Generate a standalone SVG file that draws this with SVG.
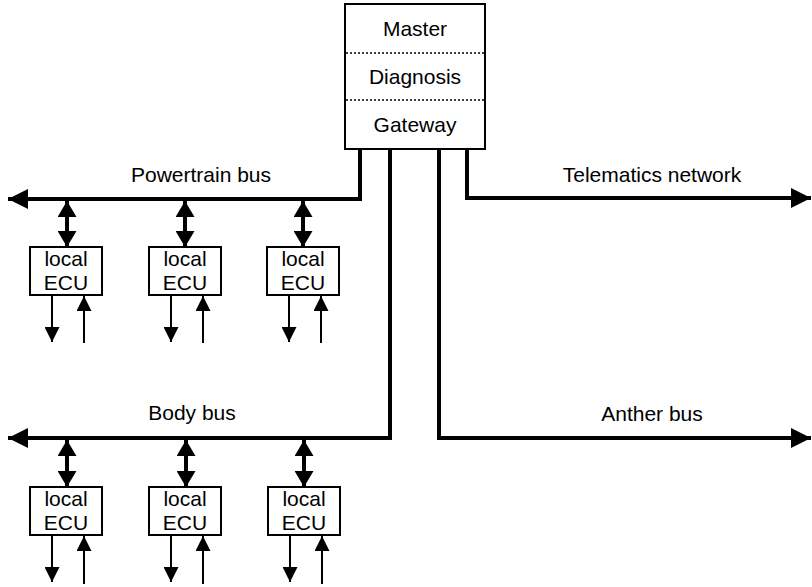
<svg xmlns="http://www.w3.org/2000/svg" width="812" height="587" viewBox="0 0 812 587">
  <defs>
    <style>
      text { font-family: "Liberation Sans", Arial, sans-serif; font-size: 21px; fill: #000; text-anchor: middle; }
      .box { fill: #fff; stroke: #000; stroke-width: 2; }
      .sep { stroke: #000; stroke-width: 1.5; stroke-dasharray: 2 2; }
      .bus { fill: none; stroke: #000; stroke-width: 4; }
      .link { stroke: #000; stroke-width: 4; }
      .io { stroke: #000; stroke-width: 2; }
    </style>
    <marker id="busHead" markerUnits="userSpaceOnUse" markerWidth="20" markerHeight="20" refX="20" refY="10" orient="auto-start-reverse" viewBox="0 0 20 20">
      <path d="M0,0 L20,10 L0,20 Z" fill="#000"/>
    </marker>
    <marker id="linkHead" markerUnits="userSpaceOnUse" markerWidth="16" markerHeight="19" refX="16" refY="9.5" orient="auto-start-reverse" viewBox="0 0 16 19">
      <path d="M0,0 L16,9.5 L0,19 Z" fill="#000"/>
    </marker>
    <marker id="ioHead" markerUnits="userSpaceOnUse" markerWidth="15" markerHeight="15" refX="15" refY="7.5" orient="auto" viewBox="0 0 15 15">
      <path d="M0,0 L15,7.5 L0,15 Z" fill="#000"/>
    </marker>
  </defs>

  <!-- central gateway unit -->
  <g id="gateway">
    <rect class="box" x="345" y="4" width="140" height="145"/>
    <line class="sep" x1="346" y1="53" x2="484" y2="53"/>
    <line class="sep" x1="346" y1="100" x2="484" y2="100"/>
    <text x="415" y="36">Master</text>
    <text x="415" y="84">Diagnosis</text>
    <text x="415" y="132">Gateway</text>
  </g>

  <!-- buses leaving the gateway -->
  <g id="connectors">
    <path class="bus" d="M360,149 V199 H8" marker-end="url(#busHead)"/>
    <path class="bus" d="M390,149 V438 H8" marker-end="url(#busHead)"/>
    <path class="bus" d="M439,149 V438 H811" marker-end="url(#busHead)"/>
    <path class="bus" d="M467,149 V198 H811" marker-end="url(#busHead)"/>

    <!-- powertrain ECU links -->
    <line class="link" x1="67" y1="201" x2="67" y2="247" marker-start="url(#linkHead)" marker-end="url(#linkHead)"/>
    <line class="link" x1="185" y1="201" x2="185" y2="247" marker-start="url(#linkHead)" marker-end="url(#linkHead)"/>
    <line class="link" x1="303" y1="201" x2="303" y2="247" marker-start="url(#linkHead)" marker-end="url(#linkHead)"/>

    <!-- body ECU links -->
    <line class="link" x1="67" y1="440" x2="67" y2="487" marker-start="url(#linkHead)" marker-end="url(#linkHead)"/>
    <line class="link" x1="186" y1="440" x2="186" y2="487" marker-start="url(#linkHead)" marker-end="url(#linkHead)"/>
    <line class="link" x1="304" y1="440" x2="304" y2="487" marker-start="url(#linkHead)" marker-end="url(#linkHead)"/>

    <!-- powertrain ECU I/O -->
    <line class="io" x1="52" y1="296" x2="52" y2="342" marker-end="url(#ioHead)"/>
    <line class="io" x1="84" y1="343" x2="84" y2="296" marker-end="url(#ioHead)"/>
    <line class="io" x1="171" y1="296" x2="171" y2="342" marker-end="url(#ioHead)"/>
    <line class="io" x1="203" y1="343" x2="203" y2="296" marker-end="url(#ioHead)"/>
    <line class="io" x1="289" y1="296" x2="289" y2="342" marker-end="url(#ioHead)"/>
    <line class="io" x1="321" y1="343" x2="321" y2="296" marker-end="url(#ioHead)"/>

    <!-- body ECU I/O -->
    <line class="io" x1="52" y1="536" x2="52" y2="582" marker-end="url(#ioHead)"/>
    <line class="io" x1="84" y1="584" x2="84" y2="536" marker-end="url(#ioHead)"/>
    <line class="io" x1="171" y1="536" x2="171" y2="582" marker-end="url(#ioHead)"/>
    <line class="io" x1="203" y1="584" x2="203" y2="536" marker-end="url(#ioHead)"/>
    <line class="io" x1="290" y1="536" x2="290" y2="582" marker-end="url(#ioHead)"/>
    <line class="io" x1="322" y1="584" x2="322" y2="536" marker-end="url(#ioHead)"/>
  </g>

  <!-- bus labels -->
  <g id="labels">
    <text x="201" y="182">Powertrain bus</text>
    <text x="652" y="182">Telematics network</text>
    <text x="192" y="420">Body bus</text>
    <text x="652" y="421">Anther bus</text>
  </g>

  <!-- powertrain ECUs -->
  <g id="pt-ecu-1">
    <rect class="box" x="30" y="247" width="72" height="48"/>
    <text x="66" y="266">local</text>
    <text x="66" y="290">ECU</text>
  </g>
  <g id="pt-ecu-2">
    <rect class="box" x="149" y="247" width="72" height="48"/>
    <text x="185" y="266">local</text>
    <text x="185" y="290">ECU</text>
  </g>
  <g id="pt-ecu-3">
    <rect class="box" x="267" y="247" width="72" height="48"/>
    <text x="303" y="266">local</text>
    <text x="303" y="290">ECU</text>
  </g>

  <!-- body ECUs -->
  <g id="body-ecu-1">
    <rect class="box" x="30" y="487" width="72" height="48"/>
    <text x="66" y="506">local</text>
    <text x="66" y="530">ECU</text>
  </g>
  <g id="body-ecu-2">
    <rect class="box" x="149" y="487" width="72" height="48"/>
    <text x="185" y="506">local</text>
    <text x="185" y="530">ECU</text>
  </g>
  <g id="body-ecu-3">
    <rect class="box" x="268" y="487" width="72" height="48"/>
    <text x="304" y="506">local</text>
    <text x="304" y="530">ECU</text>
  </g>
</svg>
